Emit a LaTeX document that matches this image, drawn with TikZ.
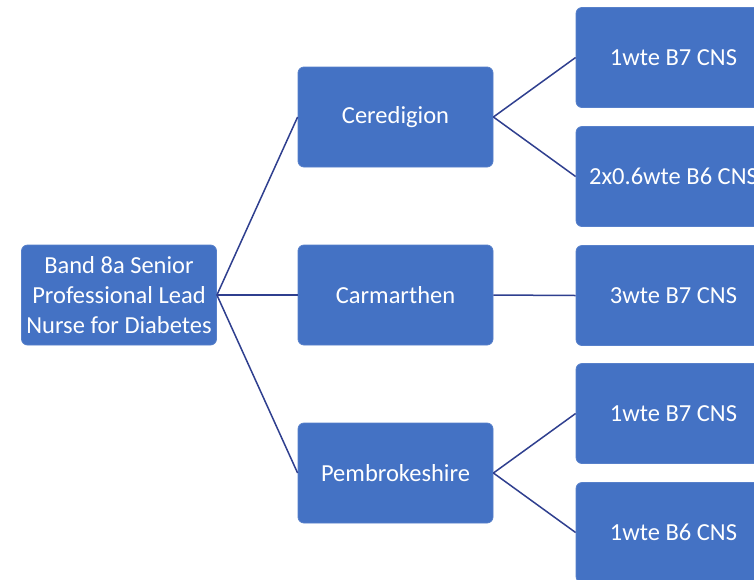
\documentclass[tikz,border=0pt]{standalone}
\usepackage{fontspec}
\setmainfont{Carlito}
\definecolor{boxblue}{HTML}{4472C4}
\definecolor{linkblue}{HTML}{2F3F8F}
\begin{document}
\begin{tikzpicture}[x=1pt,y=-1pt,
  box/.style={draw=boxblue!90!white, line width=0.8pt, fill=boxblue, rounded corners=6pt,
    minimum width=195pt, minimum height=100pt, text=white, align=center,
    font=\fontsize{24.5}{30}\selectfont, inner sep=0pt},
  link/.style={draw=linkblue, line width=1.5pt}]
\clip (0,0) rectangle (754,579);
\fill[white] (0,0) rectangle (754,579);
\node[box] (root) at (119,295) {Band 8a Senior\\Professional Lead\\Nurse for Diabetes};
\node[box] (cer) at (395.5,117) {Ceredigion};
\node[box] (car) at (395.5,295) {Carmarthen};
\node[box] (pem) at (395.5,473) {Pembrokeshire};
\node[box] (c1) at (673.5,57.5) {1wte B7 CNS};
\node[box] (c2) at (673.5,176.5) {2x0.6wte B6 CNS};
\node[box] (m1) at (673.5,295.5) {3wte B7 CNS};
\node[box] (p1) at (673.5,413.5) {1wte B7 CNS};
\node[box] (p2) at (673.5,532.5) {1wte B6 CNS};
\draw[link] (root.east) -- (cer.west);
\draw[link] (root.east) -- (car.west);
\draw[link] (root.east) -- (pem.west);
\draw[link] (cer.east) -- (c1.west);
\draw[link] (cer.east) -- (c2.west);
\draw[link] (car.east) -- (m1.west);
\draw[link] (pem.east) -- (p1.west);
\draw[link] (pem.east) -- (p2.west);
\end{tikzpicture}
\end{document}
